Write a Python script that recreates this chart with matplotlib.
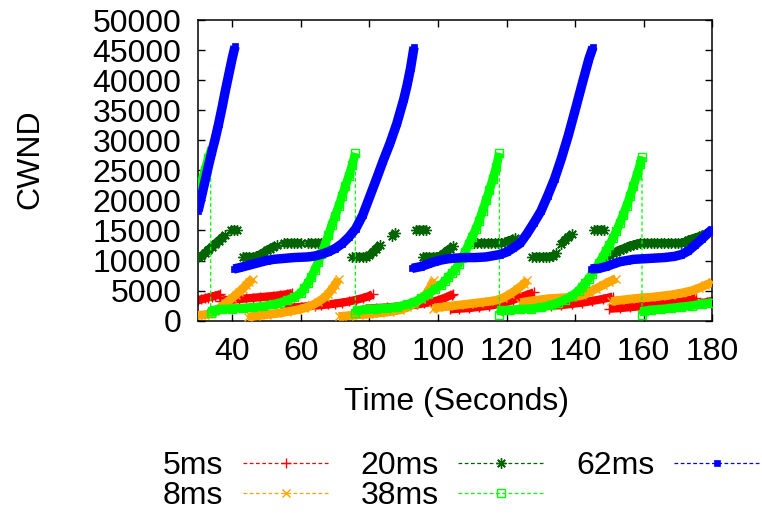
import numpy as np
import matplotlib
matplotlib.use("Agg")
import matplotlib.pyplot as plt

nan = float("nan")

# ---------------- data ----------------
t_5ms = [30, 31, 32, 33, 34, 35, 36, 36.5, nan,
         36.5, 38, 40, 42, 44, 46, 48, 50, 52, 54, 56, 57.5, nan,
         55.5, 58, 60, 62, 64, 66, 68, 70, 72, 74, 76, 78, 80, 81, nan,
         79, 82, 85, 88, 91, 94, 96, 98, 100, 102, 104, 104.5, nan,
         103.5, 106, 109, 112, 115, 118, 120, 122, 124, 126, 128, nan,
         127.7, 130, 133, 136, 139, 142, 145, 148, 151, nan,
         150, 153, 156, 159, 162, 165, 168, 171, 174, 175.3, nan,
         175.5, 177, 178.5, 180]
w_5ms = [3400, 3550, 3700, 3850, 4000, 4150, 4300, 4400, nan,
         3300, 3400, 3500, 3600, 3700, 3800, 3900, 4000, 4100, 4250, 4400, 4600, nan,
         2100, 2200, 2300, 2400, 2500, 2600, 2700, 2850, 3000, 3200, 3450, 3750, 4100, 4400, nan,
         2000, 2100, 2200, 2350, 2500, 2700, 2900, 3100, 3400, 3800, 4300, 4500, nan,
         1900, 2000, 2100, 2300, 2500, 2800, 3100, 3500, 3900, 4300, 4700, nan,
         2300, 2400, 2500, 2600, 2800, 3000, 3300, 3600, 4000, nan,
         2000, 2100, 2250, 2400, 2550, 2700, 2900, 3150, 3500, 3800, nan,
         2700, 2900, 3100, 3300]

t_8ms = [30, 31, 32, 33, 34, 35, 36, 37, 38, 39, 40, 41, 42, 43, 44, 45, 46, nan,
         44.5, 47, 50, 53, 56, 59, 61, 63, 65, 67, 68, 69, 70, 71, nan,
         71, 74, 77, 80, 83, 86, 89, 91, 93, 95, 96, 97, 98, 98.8, nan,
         98.5, 100, 103, 106, 109, 112, 115, 117, 119, 121, 123, 125, 126, nan,
         124, 127, 130, 133, 136, 139, 142, 144, 146, 148, 150, 152, nan,
         150.5, 153, 156, 159, 162, 165, 168, 171, 174, 176, 178, 180]
w_8ms = [900, 950, 1000, 1100, 1300, 1600, 2000, 2400, 2900, 3300, 3800, 4300, 4800, 5300, 5900, 6500, 7000, nan,
         600, 800, 1000, 1200, 1500, 1800, 2100, 2500, 3100, 3900, 4500, 5200, 6000, 6900, nan,
         700, 850, 1000, 1100, 1300, 1500, 1800, 2200, 2800, 3600, 4100, 4800, 5800, 6800, nan,
         2000, 2200, 2400, 2600, 2800, 3000, 3200, 3400, 3800, 4400, 5200, 6100, 6700, nan,
         3000, 3300, 3500, 3700, 3800, 3900, 4200, 4700, 5300, 5900, 6500, 7000, nan,
         3200, 3400, 3600, 3800, 3900, 4100, 4300, 4600, 5000, 5400, 5900, 6400]

t_20ms = [30, 31, 32, 33, 34, 35, 36, 37, 37.8, nan,
          39.5, 40.5, 41.5, nan,
          43, 44, 45, 46, 47, 48, 49, 50, 51, 52, 53, nan,
          55, 56, 57, 58, 59, 60, nan,
          62, 63, 64, 65, 66, nan,
          75, 76, 77, 78, 79, 80, 81, 82, 83, nan,
          86.5, 87.5, nan,
          93.5, 94.5, 95.5, 96.5, nan,
          95.5, 96.5, 97.5, 98.5, 99.5, 100.5, 101.5, 102.5, 103.5, 104.5, nan,
          110.5, 111.5, 112.5, 113.5, 114.5, 115.5, 116.5, 117.5, 118.5, nan,
          119.5, 120.5, 121.5, 122.5, nan,
          127.5, 128.5, 129.5, 130.5, 131.5, 132.5, 133.5, 134.5, nan,
          136, 137, 138, 139, nan,
          145.5, 146.5, 147.5, 148.5, nan,
          148, 149, 150, 151, 152, 153, 154, 155, 156, 157, 158, 159, 160, 161, 162, 163,
          164, 165, 166, 167, 168, 169, 170, 171, 172, 173, 174, 175, 176, 177, 178]
w_20ms = [10600, 10700, 11200, 11800, 12300, 12800, 13300, 13800, 14200, nan,
          15000, 15100, 15000, nan,
          10600, 10600, 10600, 10600, 10700, 11000, 11300, 11700, 12000, 12300, 12600, nan,
          12900, 12900, 12900, 12900, 12900, 12900, nan,
          12900, 12900, 12900, 12900, 12900, nan,
          10600, 10600, 10600, 10600, 10600, 10900, 11400, 12000, 12600, nan,
          14100, 14500, nan,
          15100, 15100, 15100, 15100, nan,
          10600, 10600, 10600, 10600, 10600, 10700, 11100, 11600, 12000, 12400, nan,
          12900, 12900, 12900, 12900, 12900, 12900, 12900, 12900, 12900, nan,
          13100, 13300, 13500, 13700, nan,
          10600, 10600, 10600, 10600, 10600, 10600, 10700, 11200, nan,
          12800, 13400, 13900, 14400, nan,
          15100, 15100, 15100, 15100, nan,
          10600, 10700, 10900, 11200, 11500, 11800, 12000, 12200, 12500, 12600, 12800, 12900, 12900, 12900, 12900, 12900,
          12900, 12900, 12900, 12900, 12900, 12900, 12900, 12900, 13100, 13400, 13600, 13800, 14000, 14200, 14400]

t_38ms = [30, 31, 32, 33, 33.7,
          33.7, 34, 35, 37, 40, 43, 46, 49, 52, 54, 56, 58, 60, 61, 62, 63, 64, 65, 66, 67, 68, 69, 70,
          71, 72, 73, 74, 75, 75.9,
          75.9, 76.5, 79, 82, 85, 88, 91, 93, 95, 97, 99, 101, 102, 103, 104, 105, 106, 107, 108, 109,
          110, 111, 112, 113, 114, 115, 116, 117, 117.9,
          117.9, 118.5, 121, 124, 127, 130, 133, 135, 137, 139, 141, 142, 143, 144, 145, 146, 147, 148,
          149, 150, 151, 152, 153, 154, 155, 156, 157, 158, 159, 159.5,
          159.5, 160, 162, 165, 168, 171, 174, 177, 180]
w_38ms = [20500, 23000, 25000, 27000, 28200,
          1200, 1600, 1800, 1900, 2000, 2100, 2200, 2400, 2700, 3000, 3400, 3900, 4600, 5400, 6200, 7200,
          8400, 9700, 11100, 12600, 14200, 15900, 17400, 19000, 20700, 22400, 24100, 25900, 27900,
          1200, 1700, 1900, 2000, 2100, 2300, 2700, 3100, 3700, 4400, 5200, 6000, 6600, 7200, 7900, 8500,
          9400, 10400, 11500, 12800, 14000, 15200, 16600, 18300, 20000, 21700, 23600, 25600, 27900,
          1000, 1700, 1800, 1900, 2000, 2200, 2600, 3000, 3500, 4100, 5000, 5600, 6300, 7000, 7800, 8700,
          9600, 10600, 11600, 12600, 13700, 14900, 16200, 17600, 19100, 20700, 22400, 24200, 26100, 27300,
          900, 1600, 1800, 1900, 2100, 2300, 2500, 2800, 3000]

t_62ms = [30, 31, 32, 33, 34, 35, 36, 37, 38, 39, 40, 40.8, nan,
          40.4, 42, 44, 46, 48, 50, 52, 54, 56, 58, 60, 62, 64, 66, 68, 70, 72, 74, 76, 78, 80, 82,
          84, 86, 88, 90, 91, 92, 93, nan,
          92.4, 95, 97, 99, 101, 103, 105, 108, 111, 114, 116, 118, 120, 122, 124, 126, 128, 130, 132,
          134, 136, 138, 140, 142, 144, 145.2, nan,
          144.5, 147, 149, 151, 153, 155, 157, 160, 163, 166, 169, 171, 173, 175, 177, 179, 180]
w_62ms = [18200, 20600, 23100, 25600, 28000, 30200, 32700, 35400, 38300, 41000, 43700, 45600, nan,
          8600, 8800, 9100, 9400, 9700, 10000, 10200, 10300, 10400, 10500, 10550, 10600, 10750, 11050,
          11450, 12000, 12800, 13900, 15300, 17500, 20500, 23500, 26600, 29500, 32800, 36800, 39200,
          42000, 45500, nan,
          8700, 9000, 9400, 9800, 10100, 10300, 10400, 10500, 10500, 10600, 10800, 11000, 11400, 12100,
          12900, 14500, 16300, 18200, 20800, 23600, 27000, 30800, 35000, 39300, 43500, 45500, nan,
          8600, 8700, 9000, 9400, 9800, 10000, 10200, 10300, 10400, 10500, 10700, 11000, 11600, 12600,
          13600, 14700, 15200]

labels = ["5ms", "8ms", "20ms", "38ms", "62ms"]
x_ticks = [40, 60, 80, 100, 120, 140, 160, 180]
y_ticks = [0, 5000, 10000, 15000, 20000, 25000, 30000, 35000, 40000, 45000, 50000]

# ---------------- styling ----------------
plt.rcParams["font.family"] = ["Liberation Sans", "DejaVu Sans"]

series = [
    (t_5ms, w_5ms, "#ff0000", 6.0, dict(marker="+", ms=7, mew=1.0)),
    (t_8ms, w_8ms, "#ffa500", 6.3, dict(marker="x", ms=5.5, mew=1.0)),
    (t_20ms, w_20ms, "#006400", 6.0, dict(marker=(8, 2, 0), ms=7.5, mew=1.0)),
    (t_38ms, w_38ms, "#00ff00", 6.3, dict(marker="s", ms=6, mew=1.0, mfc="none")),
    (t_62ms, w_62ms, "#0000ff", 6.8, dict(marker="s", ms=5, mew=0.5)),
]


def band(t, w):
    t = np.asarray(t, float)
    w = np.asarray(w, float)
    jumps = np.where(np.abs(np.diff(w)) > 6000)[0]
    return np.insert(t, jumps + 1, np.nan), np.insert(w, jumps + 1, np.nan)


fig = plt.figure(figsize=(7.62, 5.13), dpi=100)
ax = fig.add_axes([198 / 762, 1 - 320.7 / 513, (712.3 - 198) / 762, (320.7 - 20) / 513])

for z, ((t, w, col, lw, mk), lab) in enumerate(zip(series, labels)):
    bt, bw = band(t, w)
    ax.plot(bt, bw, "-", lw=lw, color=col, solid_capstyle="butt", zorder=2 + z)
    ax.plot(t, w, ls=(0, (3, 2)), lw=0.9, color=col, label=lab, zorder=2 + z, **mk)

ax.set_xlim(30, 180)
ax.set_ylim(0, 50000)
ax.set_xticks(x_ticks)
ax.set_yticks(y_ticks)
ax.tick_params(direction="in", top=True, right=True, length=5, width=1.0,
               labelsize=23, pad=12)
for s in ax.spines.values():
    s.set_linewidth(1.1)

ax.set_xlabel("Time (Seconds)", fontsize=23)
ax.set_ylabel("CWND", fontsize=23)
ax.xaxis.set_label_coords(0.502, -0.27)
ax.xaxis.label.set_va("center")
ax.yaxis.set_label_coords(-0.325, 0.538)
ax.yaxis.label.set_va("center")

leg = ax.legend(loc="upper left", bbox_to_anchor=(163 / 762, 1 - 451 / 513),
                bbox_transform=fig.transFigure, ncol=3, markerfirst=False,
                frameon=False, fontsize=23, handlelength=2.7, handletextpad=0.6,
                columnspacing=1.0, labelspacing=0.0, borderpad=0, borderaxespad=0)

fig.savefig("out.png", dpi=100)
